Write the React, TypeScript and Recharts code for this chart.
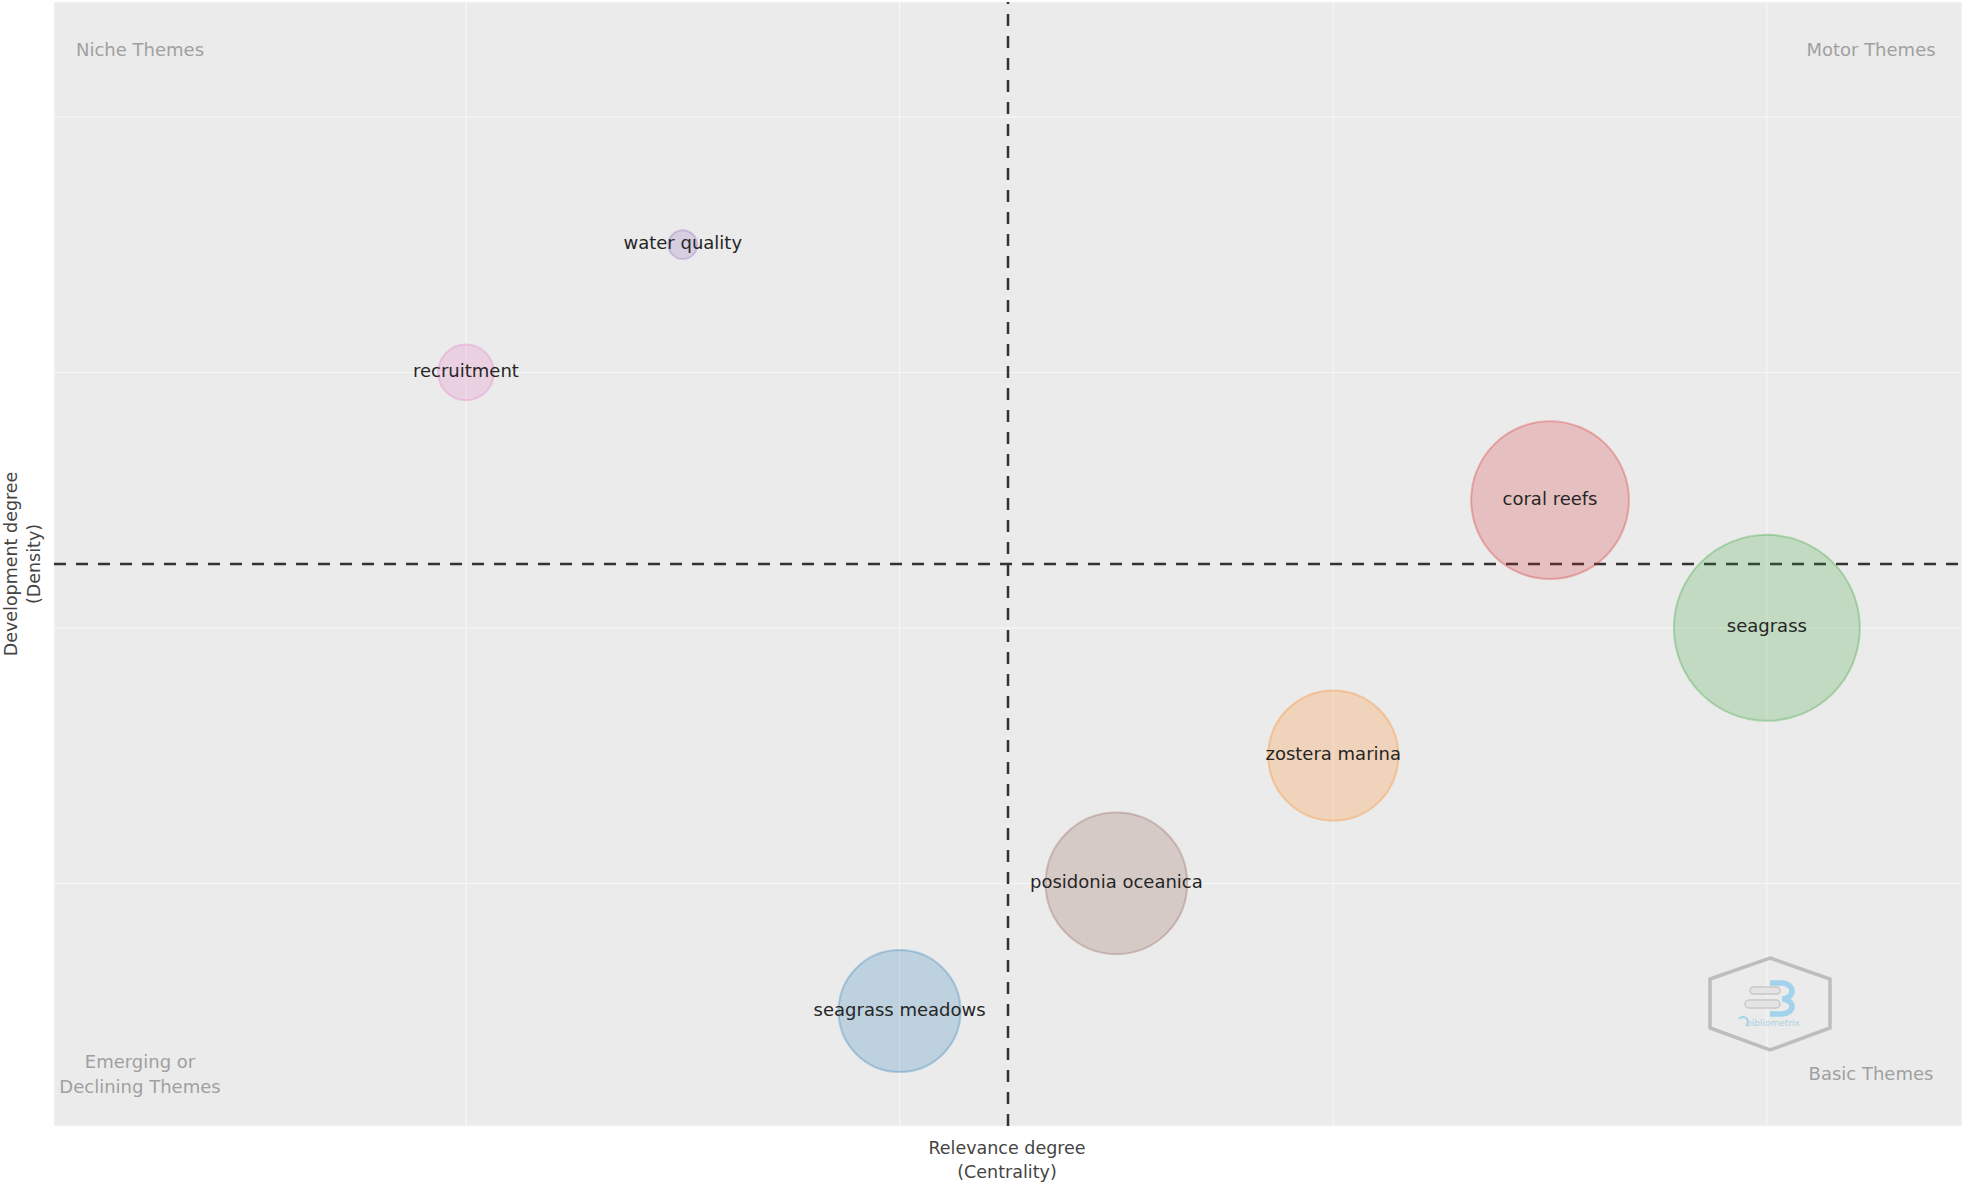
import React from 'react';
import { ScatterChart, Scatter, XAxis, YAxis, ZAxis, CartesianGrid, ReferenceLine } from 'recharts';

// thematic map: one bubble per cluster
const themes = ['recruitment', 'water quality', 'seagrass meadows', 'posidonia oceanica', 'zostera marina', 'coral reefs', 'seagrass'];
const centrality = [1, 2, 3, 4, 5, 6, 7];
const density = [6, 7, 1, 2, 3, 5, 4];
const frequency = [45, 12, 215, 290, 245, 360, 500];
const colors = ['#e377c2', '#9467bd', '#1f77b4', '#8c564b', '#ff7f0e', '#d62728', '#2ca02c'];

const xTicks = [1, 3, 5, 7];
const yTicks = [2, 4, 6, 8];
const xCut = 3.5;
const yCut = 4.5;

const data = themes.map((name, i) => ({
  name,
  x: centrality[i],
  y: density[i],
  freq: frequency[i],
  color: colors[i],
}));

const maxFreq = Math.max(...frequency);
const MAX_R = 93;
const FONT = '"DejaVu Sans", Verdana, sans-serif';

function Bubble(props: any) {
  const { cx, cy, payload } = props;
  const r = Math.sqrt(payload.freq / maxFreq) * MAX_R;
  return (
    <g>
      <circle cx={cx} cy={cy} r={r} fill={payload.color} fillOpacity={0.22} stroke={payload.color} strokeOpacity={0.3} strokeWidth={2} />
      <text x={cx} y={cy - 2} textAnchor="middle" dominantBaseline="central" fontFamily={FONT} fontSize={18} fill="#262626">
        {payload.name}
      </text>
    </g>
  );
}

function Overlay() {
  const q = { fontFamily: FONT, fontSize: 18, fill: '#a0a0a0', textAnchor: 'middle' as const, dominantBaseline: 'central' as const };
  const t = { fontFamily: FONT, fontSize: 17.5, fill: '#444', textAnchor: 'middle' as const, dominantBaseline: 'central' as const };
  return (
    <svg width={1962} height={1184} style={{ position: 'absolute', left: 0, top: 0, pointerEvents: 'none' }}>
      <text x={140} y={49} {...q}>Niche Themes</text>
      <text x={1871} y={49} {...q}>Motor Themes</text>
      <text x={140} y={1061} {...q}>Emerging or</text>
      <text x={140} y={1086} {...q}>Declining Themes</text>
      <text x={1871} y={1073} {...q}>Basic Themes</text>

      <text x={1007} y={1148} {...t}>Relevance degree</text>
      <text x={1007} y={1172} {...t}>(Centrality)</text>
      <g transform="translate(0,564) rotate(-90)">
        <text x={0} y={11} {...t}>Development degree</text>
        <text x={0} y={34} {...t}>(Density)</text>
      </g>

      {/* bibliometrix logo */}
      <g transform="translate(1770,1004)">
        <polygon points="0,-46 60,-25 60,24 0,46 -60,24 -60,-25" fill="none" stroke="#bdbdbd" strokeWidth={3.5} />
        <rect x={-20} y={-17} width={30} height={7} rx={3.5} fill="#e4e4e4" stroke="#c8c8c8" strokeWidth={1.5} />
        <rect x={-25} y={-4} width={35} height={8} rx={4} fill="#e4e4e4" stroke="#c8c8c8" strokeWidth={1.5} />
        <path d="M0,-21 L12,-21 A10,8 0 0 1 12,-5 A10,7.5 0 0 1 12,10 L0,10" fill="none" stroke="#a3d2ec" strokeWidth={5.5} />
        <path d="M-31,15 A5,5 0 1 1 -24,22" fill="none" stroke="#a3d2ec" strokeWidth={2} />
        <text x={3} y={19} textAnchor="middle" dominantBaseline="central" fontFamily={FONT} fontSize={9} fill="#b0cfe0">bibliometrix</text>
      </g>
    </svg>
  );
}

export default function App() {
  return (
    <div style={{ position: 'absolute', left: 0, top: 0, width: 1962, height: 1184, background: '#fff' }}>
      <ScatterChart width={1962} height={1184} margin={{ top: 2, right: 0, bottom: 58, left: 54 }}>
        <CartesianGrid fill="#ebebeb" stroke="#f8f8f8" strokeWidth={1} />
        <XAxis type="number" dataKey="x" domain={[-0.9, 7.9]} ticks={xTicks} hide />
        <YAxis type="number" dataKey="y" domain={[0.1, 8.9]} ticks={yTicks} hide />
        <ZAxis type="number" dataKey="freq" range={[100, 100]} />
        <Scatter data={data} shape={Bubble} isAnimationActive={false} />
        <ReferenceLine x={xCut} stroke="#333" strokeWidth={2.5} strokeDasharray="12 10" />
        <ReferenceLine y={yCut} stroke="#333" strokeWidth={2.5} strokeDasharray="12 10" />
      </ScatterChart>
      <Overlay />
    </div>
  );
}
